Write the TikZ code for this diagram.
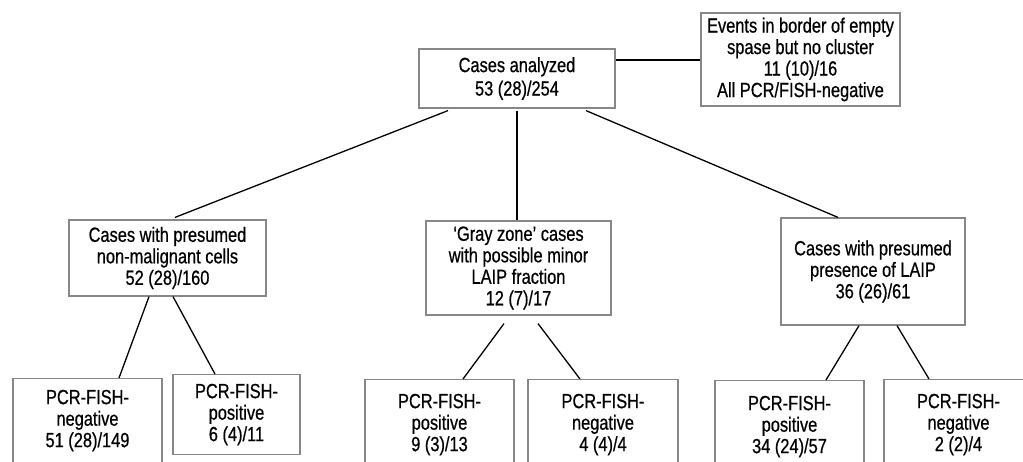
\documentclass[tikz,border=0pt]{standalone}
\usepackage{fontspec}
\setmainfont{Liberation Sans}[FakeStretch=0.80,FakeBold=0.6]
\definecolor{boxgray}{RGB}{135,135,135}
\begin{document}
\begin{tikzpicture}[x=1pt,y=-1pt,
  box/.style={draw=boxgray, line width=1.2pt, align=center, inner sep=0pt,
    font=\fontsize{20.5}{21.5}\selectfont},
  link/.style={line width=1.3pt, draw=black}]
\useasboundingbox (0,0) rectangle (1023,461);
\clip (0,0) rectangle (1023,461);

\node[box, minimum width=196pt, minimum height=59pt, font=\fontsize{20.5}{23.5}\selectfont] (top) at (517,78.5) {Cases analyzed\\53 (28)/254};
\node[box, minimum width=199pt, minimum height=93pt] (events) at (800.5,59.5) {Events in border of empty\\spase but no cluster\\11 (10)/16\\All PCR/FISH-negative};

\node[box, minimum width=197pt, minimum height=76pt] (lm) at (167.5,258) {Cases with presumed\\non-malignant cells\\52 (28)/160};
\node[box, minimum width=185pt, minimum height=94pt] (mid) at (518.5,268) {‘Gray zone’ cases\\with possible minor\\LAIP fraction\\12 (7)/17};
\node[box, minimum width=184pt, minimum height=107pt] (rm) at (873,271.5) {Cases with presumed\\presence of LAIP\\36 (26)/61};

\node[box, anchor=north, minimum width=149pt, minimum height=84pt] (b1) at (87.5,378) {PCR-FISH-\\negative\\51 (28)/149};
\node[box, anchor=north, minimum width=127pt, minimum height=80pt] (b2) at (236.5,374) {PCR-FISH-\\positive\\6 (4)/11};
\node[box, anchor=north, minimum width=149pt, minimum height=90pt] (b3) at (439.5,379) {PCR-FISH-\\positive\\9 (3)/13};
\node[box, anchor=north, minimum width=150pt, minimum height=90pt] (b4) at (603,379) {PCR-FISH-\\negative\\4 (4)/4};
\node[box, anchor=north, minimum width=149pt, minimum height=92pt] (b5) at (789.5,380) {PCR-FISH-\\positive\\34 (24)/57};
\node[box, anchor=north, minimum width=149pt, minimum height=90pt] (b6) at (958.5,379) {PCR-FISH-\\negative\\2 (2)/4};

\path ([yshift=18.5pt]top.east) coordinate (te);
\draw[link] (te) -- (te -| events.west);

\draw[link] ([xshift=-69pt,yshift=-2pt]top.south) -- ([xshift=7.5pt,yshift=2pt]lm.north);
\draw[link] ([yshift=-2pt]top.south) -- (top.south |- mid.north);
\draw[link] ([xshift=69pt,yshift=-2pt]top.south) -- ([xshift=-35pt]rm.north);

\draw[link] ([xshift=-18.5pt]lm.south) -- ([xshift=31.5pt]b1.north);
\draw[link] ([xshift=5.5pt]lm.south) -- ([xshift=-21.5pt]b2.north);
\draw[link] ([xshift=-14.5pt,yshift=-8pt]mid.south) -- ([xshift=23.5pt]b3.north);
\draw[link] ([xshift=19.5pt,yshift=-8pt]mid.south) -- ([xshift=-23pt]b4.north);
\draw[link] ([xshift=-14pt]rm.south) -- ([xshift=36.5pt]b5.north);
\draw[link] ([xshift=24pt]rm.south) -- ([xshift=-29.5pt]b6.north);
\end{tikzpicture}
\end{document}
